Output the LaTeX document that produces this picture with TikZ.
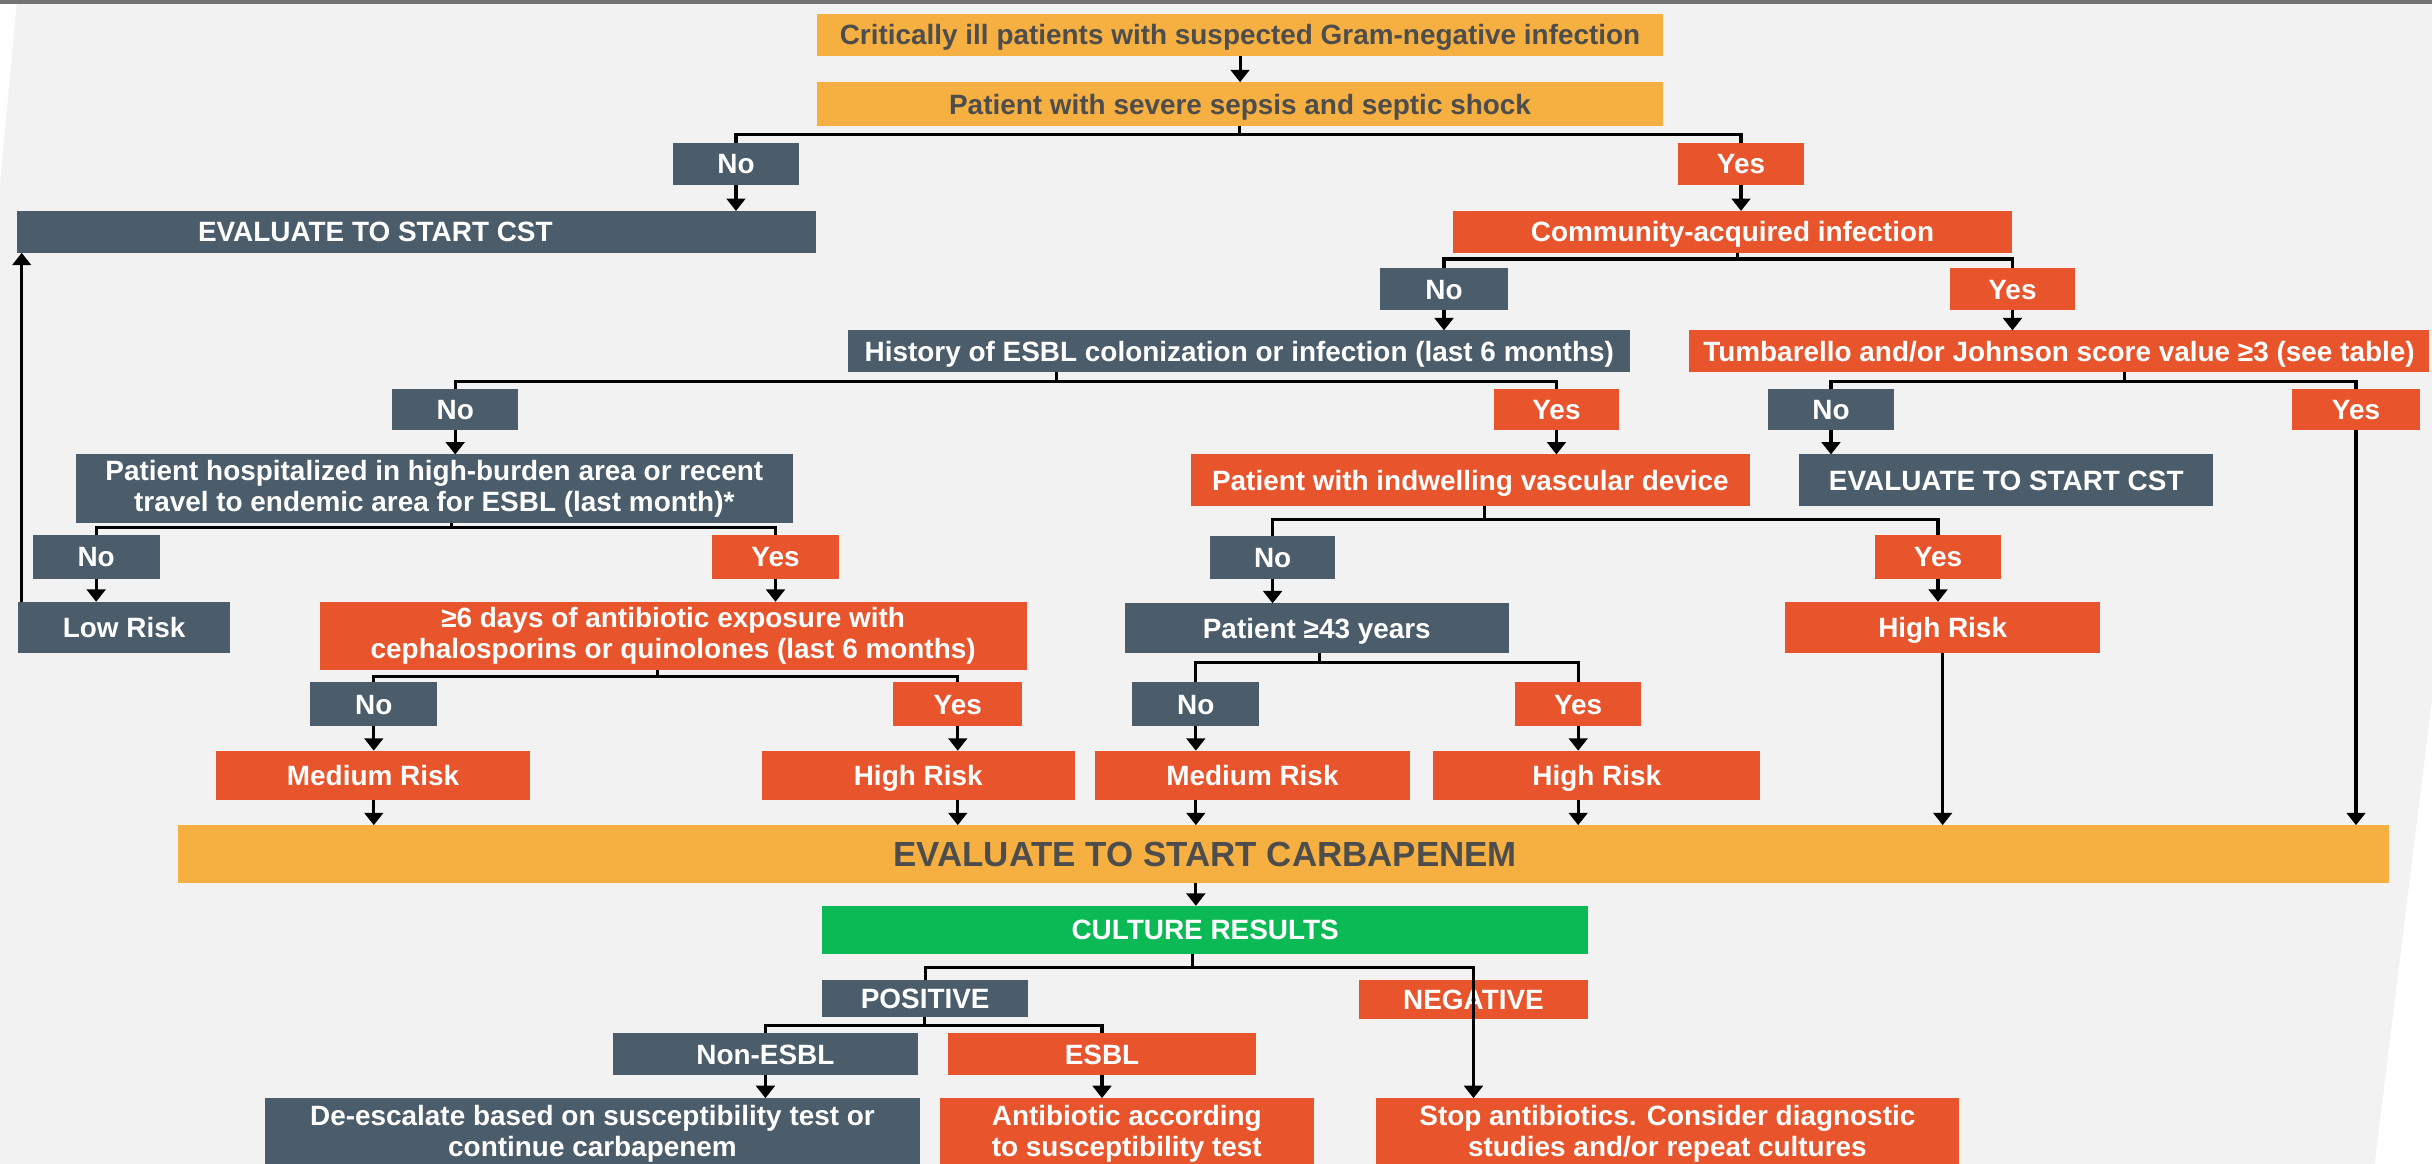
\documentclass[tikz,border=0pt]{standalone}
\usepackage{fontspec}
\setmainfont{Liberation Sans}
\usetikzlibrary{arrows.meta}
\definecolor{dk}{HTML}{4B5D6A}
\definecolor{og}{HTML}{E8542C}
\definecolor{yl}{HTML}{F5B041}
\definecolor{gr}{HTML}{0BBA55}
\definecolor{bg}{HTML}{F2F2F2}
\definecolor{ytxt}{HTML}{4D4D4D}
\begin{document}
\begin{tikzpicture}[x=1pt,y=-1pt,
  bx/.style={inner sep=0pt, outer sep=0pt, align=center, font=\bfseries\fontsize{18}{20}\selectfont, text=white},
  s1/.style={text height=13pt, text depth=0pt},
  dkb/.style={bx, fill=dk}, ogb/.style={bx, fill=og},
  ylb/.style={bx, fill=yl, text=ytxt}, grb/.style={bx, fill=gr},
  con/.style={line width=2pt, black},
  arr/.style={con, -{Triangle[width=12pt,length=8pt]}}]
\useasboundingbox (0,0) rectangle (1568,750.44);
\clip (0,0) rectangle (1568,750.44);
% background
\fill[white] (0,0) rectangle (1568,750.44);
\fill[bg] (11,0) -- (1568,0) -- (1568,451) -- (1531,750.44) -- (0,750.44) -- (0,119) -- cycle;
\fill[black!55] (0,0) rectangle (1568,2.5);

% nodes
\node[ylb,s1,minimum width=545pt,minimum height=27pt] (crit) at (799.5,22.5) {Critically ill patients with suspected Gram-negative infection};
\node[ylb,s1,minimum width=545pt,minimum height=28pt] (seps) at (799.5,67) {Patient with severe sepsis and septic shock};
\node[dkb,s1,minimum width=81pt,minimum height=27pt] (no1) at (474.5,105.5) {No};
\node[ogb,s1,minimum width=81pt,minimum height=27pt] (yes1) at (1122.5,105.5) {Yes};
\node[dkb,minimum width=515pt,minimum height=27pt] (cstL) at (268.5,149.5) {};
\node[bx,s1] (cstLt) at (242,149.5) {EVALUATE TO START CST};
\node[ogb,s1,minimum width=360pt,minimum height=27pt] (comm) at (1117,149.5) {Community-acquired infection};
\node[dkb,s1,minimum width=82pt,minimum height=27pt] (no2) at (931,186.5) {No};
\node[ogb,s1,minimum width=81pt,minimum height=27pt] (yes2) at (1297.5,186.5) {Yes};
\node[dkb,s1,minimum width=504pt,minimum height=27pt] (hist) at (799,226.5) {History of ESBL colonization or infection (last 6 months)};
\node[ogb,s1,minimum width=477pt,minimum height=27pt] (tumb) at (1327.5,226.5) {Tumbarello and/or Johnson score value ≥3 (see table)};
\node[dkb,s1,minimum width=81pt,minimum height=27pt] (no3) at (293.5,264) {No};
\node[ogb,s1,minimum width=81pt,minimum height=27pt] (yes3) at (1003.5,264) {Yes};
\node[dkb,s1,minimum width=81pt,minimum height=27pt] (no4) at (1180.5,264) {No};
\node[ogb,s1,minimum width=82pt,minimum height=27pt] (yes4) at (1519,264) {Yes};
\node[dkb,minimum width=462pt,minimum height=44pt] (hosp) at (280,315) {Patient hospitalized in high-burden area or recent\\travel to endemic area for ESBL (last month)*};
\node[ogb,s1,minimum width=360pt,minimum height=33pt] (indw) at (948,309.5) {Patient with indwelling vascular device};
\node[dkb,s1,minimum width=267pt,minimum height=33pt] (cstR) at (1293.5,309.5) {EVALUATE TO START CST};
\node[dkb,s1,minimum width=82pt,minimum height=28pt] (no5) at (62,359) {No};
\node[ogb,s1,minimum width=82pt,minimum height=28pt] (yes5) at (500,359) {Yes};
\node[dkb,s1,minimum width=81pt,minimum height=28pt] (no6) at (820.5,359.5) {No};
\node[ogb,s1,minimum width=81pt,minimum height=28pt] (yes6) at (1249.5,359) {Yes};
\node[dkb,s1,minimum width=137pt,minimum height=33pt] (low) at (80,404.5) {Low Risk};
\node[ogb,minimum width=456pt,minimum height=44pt] (abx6) at (434,410) {≥6 days of antibiotic exposure with\\cephalosporins or quinolones (last 6 months)};
\node[dkb,s1,minimum width=248pt,minimum height=32pt] (age) at (849,405) {Patient ≥43 years};
\node[ogb,s1,minimum width=203pt,minimum height=33pt] (highR) at (1252.5,404.5) {High Risk};
\node[dkb,s1,minimum width=82pt,minimum height=28pt] (no7) at (241,454) {No};
\node[ogb,s1,minimum width=83pt,minimum height=28pt] (yes7) at (617.5,454) {Yes};
\node[dkb,s1,minimum width=82pt,minimum height=28pt] (no8) at (771,454) {No};
\node[ogb,s1,minimum width=81pt,minimum height=28pt] (yes8) at (1017.5,454) {Yes};
\node[ogb,s1,minimum width=203pt,minimum height=32pt] (med1) at (240.5,500) {Medium Risk};
\node[ogb,s1,minimum width=202pt,minimum height=32pt] (high1) at (592,500) {High Risk};
\node[ogb,s1,minimum width=203pt,minimum height=32pt] (med2) at (807.5,500) {Medium Risk};
\node[ogb,s1,minimum width=211pt,minimum height=32pt] (high2) at (1029.5,500) {High Risk};
\node[ylb,minimum width=1425pt,minimum height=37pt] (carb) at (827.5,550.5) {};
\node[bx,s1,text=ytxt,font=\bfseries\fontsize{22.5}{26}\selectfont,text height=16pt] (carbt) at (777,550.5) {EVALUATE TO START CARBAPENEM};
\node[grb,s1,minimum width=494pt,minimum height=31pt] (cult) at (777,599.5) {CULTURE RESULTS};
\node[dkb,s1,minimum width=133pt,minimum height=24pt] (pos) at (596.5,644) {POSITIVE};
\node[ogb,s1,minimum width=148pt,minimum height=25pt] (neg) at (950,644.5) {NEGATIVE};
\node[dkb,s1,minimum width=197pt,minimum height=27pt] (nonesbl) at (493.5,679.5) {Non-ESBL};
\node[ogb,s1,minimum width=199pt,minimum height=27pt] (esbl) at (710.5,679.5) {ESBL};
\node[dkb,minimum width=422pt,minimum height=46pt] (desc) at (382,731) {De-escalate based on susceptibility test or\\continue carbapenem};
\node[ogb,minimum width=241pt,minimum height=46pt] (abxs) at (726.5,731) {Antibiotic according\\to susceptibility test};
\node[ogb,minimum width=376pt,minimum height=46pt] (stop) at (1075,731) {Stop antibiotics. Consider diagnostic\\studies and/or repeat cultures};

% junctions
\coordinate (j1) at (799,87);
\coordinate (j2) at (1120,167);
\coordinate (j3) at (681,246);
\coordinate (j4) at (1370,246);
\coordinate (j5) at (291,340);
\coordinate (j6) at (957,335);
\coordinate (j7) at (424,436);
\coordinate (j8) at (851,427);
\coordinate (j9) at (769,624);
\coordinate (j10) at (596,661);

% connectors
\draw[arr] (crit.south) -- (seps.north);
\draw[con] (seps.south -| j1) -- (j1);
\draw[con] (no1.north) |- (j1) -| (yes1.north);
\draw[arr] (no1.south) -- (no1.south |- cstL.north);
\draw[arr] (yes1.south) -- (yes1.south |- comm.north);
\draw[con] (comm.south -| j2) -- (j2);
\draw[con] (no2.north) |- (j2) -| (yes2.north);
\draw[arr] (no2.south) -- (no2.south |- hist.north);
\draw[arr] (yes2.south) -- (yes2.south |- tumb.north);
\draw[con] (hist.south -| j3) -- (j3);
\draw[con] (no3.north) |- (j3) -| (yes3.north);
\draw[con] (tumb.south -| j4) -- (j4);
\draw[con] (no4.north) |- (j4) -| (yes4.north);
\draw[arr] (no3.south) -- (no3.south |- hosp.north);
\draw[arr] (yes3.south) -- (yes3.south |- indw.north);
\draw[arr] (no4.south) -- (no4.south |- cstR.north);
\draw[arr] (yes4.south) -- (yes4.south |- carb.north);
\draw[con] (hosp.south -| j5) -- (j5);
\draw[con] (no5.north) |- (j5) -| (yes5.north);
\draw[con] (indw.south -| j6) -- (j6);
\draw[con] (no6.north) |- (j6) -| (yes6.north);
\draw[arr] (no5.south) -- (no5.south |- low.north);
\draw[arr] (yes5.south) -- (yes5.south |- abx6.north);
\draw[arr] (no6.south) -- (no6.south |- age.north);
\draw[arr] (yes6.south) -- (yes6.south |- highR.north);
\draw[arr] ([xshift=2.5pt]low.north west) -- ([xshift=2.5pt]low.north west |- cstL.south);
\draw[con] (abx6.south -| j7) -- (j7);
\draw[con] (no7.north) |- (j7) -| (yes7.north);
\draw[con] (age.south -| j8) -- (j8);
\draw[con] (no8.north) |- (j8) -| (yes8.north);
\draw[arr] (no7.south) -- (no7.south |- med1.north);
\draw[arr] (yes7.south) -- (yes7.south |- high1.north);
\draw[arr] (no8.south) -- (no8.south |- med2.north);
\draw[arr] (yes8.south) -- (yes8.south |- high2.north);
\draw[arr] (no7 |- med1.south) -- (no7 |- carb.north);
\draw[arr] (yes7 |- high1.south) -- (yes7 |- carb.north);
\draw[arr] (no8 |- med2.south) -- (no8 |- carb.north);
\draw[arr] (yes8 |- high2.south) -- (yes8 |- carb.north);
\draw[arr] (highR.south) -- (highR.south |- carb.north);
\draw[arr] (no8 |- carb.south) -- (no8 |- cult.north);
\draw[con] (cult.south -| j9) -- (j9);
\draw[con] (pos.north) |- (j9);
\draw[arr] (j9) -| (neg.center |- stop.north);
\draw[con] (pos.south -| j10) -- (j10);
\draw[con] (nonesbl.north) |- (j10) -| (esbl.north);
\draw[arr] (nonesbl.south) -- (nonesbl.south |- desc.north);
\draw[arr] (esbl.south) -- (esbl.south |- abxs.north);
\end{tikzpicture}
\end{document}
